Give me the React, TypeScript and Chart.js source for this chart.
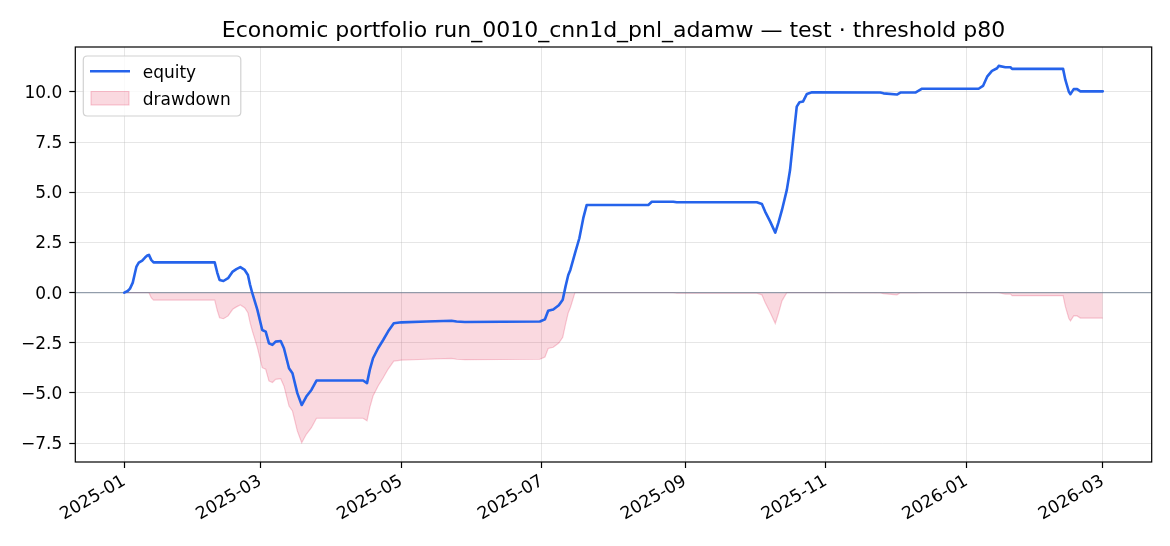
import React, { useEffect, useRef } from "react";
import { Chart, registerables } from "chart.js";

Chart.register(...registerables);

// Days since 2025-01-01 for each equity observation
const dayOffsets: number[] = [
  0, 1.5, 2.5, 3.7, 4.5, 5.3, 6.3, 7.8, 9.0, 10.0, 10.7, 11.7, 12.7, 39.2, 40.3, 41.3, 43, 45, 47, 48.6,
  50.3, 52.2, 53.6, 54.5, 55.5, 57.7, 59.8, 61.3, 62.7, 64.2, 65.6, 67.8, 69.2, 71.4, 72.9, 75, 76.9,
  78.9, 81.1, 83.3, 103.5, 105.2, 106.4, 107.8, 110, 112.2, 114.3, 116.8, 120.1, 131, 141.8, 144, 147.6,
  180.1, 182.3, 183.7, 185.9, 188.3, 190.0, 191.2, 192.4, 193.3, 195.3, 197.2, 198.9, 200.4, 227.1,
  228.6, 237.9, 239.4, 274.1, 276.3, 277.7, 279.9, 282.1, 283.5, 285, 287.1, 288.5, 290, 291.4, 292.6,
  294.1, 295.8, 298, 327.6, 329, 334.8, 336.3, 342.8, 345.7, 370.2, 372.1, 373.9, 376, 378.2, 378.9,
  381.8, 384, 384.7, 406.8, 407.8, 409.3, 410, 411.4, 412.9, 414.3, 424,
];

const equity: number[] = [
  0, 0.08, 0.2, 0.5, 0.9, 1.3, 1.5, 1.6, 1.75, 1.85, 1.88, 1.63, 1.51, 1.51, 1.0, 0.63, 0.58, 0.72, 1.05, 1.17,
  1.27, 1.13, 0.88, 0.4, -0.03, -0.86, -1.86, -1.94, -2.52, -2.6, -2.44, -2.41, -2.77, -3.77, -4.02, -5.01, -5.6,
  -5.18, -4.85, -4.38, -4.38, -4.51, -3.85, -3.27, -2.77, -2.36, -1.94, -1.53, -1.48, -1.44, -1.4, -1.44, -1.46,
  -1.44, -1.33, -0.9, -0.84, -0.63, -0.35, 0.3, 0.88, 1.13, 1.96, 2.71, 3.71, 4.37, 4.37,
  4.53, 4.53, 4.5, 4.5, 4.42, 4.04, 3.54, 2.99, 3.5, 4.12, 5.12, 6.11, 7.77, 9.27, 9.49,
  9.52, 9.9, 9.98, 9.97, 9.93, 9.87, 9.97, 9.97, 10.16, 10.16, 10.3, 10.76, 11.05, 11.18, 11.3,
  11.23, 11.23, 11.15, 11.15, 10.6, 10.01, 9.89, 10.14, 10.14, 10.03, 10.03,
];

const xTickDays: number[] = [0, 59, 120, 181, 243, 304, 365, 424];
const xTickLabels: string[] = ["2025-01", "2025-03", "2025-05", "2025-07", "2025-09", "2025-11", "2026-01", "2026-03"];
const yTickValues: number[] = [-7.5, -5, -2.5, 0, 2.5, 5, 7.5, 10];

const TITLE = "Economic portfolio run_0010_cnn1d_pnl_adamw \u2014 test \u00b7 threshold p80";
const FONT = "'DejaVu Sans', sans-serif";

export default function App() {
  const ref = useRef<HTMLCanvasElement | null>(null);

  useEffect(() => {
    const canvas = ref.current;
    if (!canvas) return;

    // drawdown = equity minus its running peak
    let peak = -Infinity;
    const drawdown = equity.map((v) => {
      peak = Math.max(peak, v);
      return v - peak;
    });

    const eqData = dayOffsets.map((d, i) => ({ x: d, y: equity[i] }));
    const ddData = dayOffsets.map((d, i) => ({ x: d, y: drawdown[i] }));

    const decorPlugin = {
      id: "decor",
      afterDatasetDraw(chart: any, args: any) {
        if (args.index !== 1) return;
        const { ctx, chartArea } = chart;
        const y0 = chart.scales.y.getPixelForValue(0);
        ctx.save();
        ctx.strokeStyle = "rgba(100,116,139,0.65)";
        ctx.lineWidth = 1.3;
        ctx.beginPath();
        ctx.moveTo(chartArea.left, y0);
        ctx.lineTo(chartArea.right, y0);
        ctx.stroke();
        ctx.restore();
      },
      afterDraw(chart: any) {
        const { ctx, chartArea } = chart;
        ctx.save();
        // frame
        ctx.strokeStyle = "#000";
        ctx.lineWidth = 1.2;
        ctx.strokeRect(chartArea.left, chartArea.top, chartArea.right - chartArea.left, chartArea.bottom - chartArea.top);
        // title
        ctx.fillStyle = "#000";
        ctx.font = `22px ${FONT}`;
        ctx.textAlign = "center";
        ctx.textBaseline = "alphabetic";
        ctx.fillText(TITLE, (chartArea.left + chartArea.right) / 2, 37);
        // legend
        const lx = chartArea.left + 8;
        const ly = chartArea.top + 9;
        const lw = 157.5;
        const lh = 60;
        const r = 4;
        ctx.beginPath();
        ctx.moveTo(lx + r, ly);
        ctx.lineTo(lx + lw - r, ly);
        ctx.quadraticCurveTo(lx + lw, ly, lx + lw, ly + r);
        ctx.lineTo(lx + lw, ly + lh - r);
        ctx.quadraticCurveTo(lx + lw, ly + lh, lx + lw - r, ly + lh);
        ctx.lineTo(lx + r, ly + lh);
        ctx.quadraticCurveTo(lx, ly + lh, lx, ly + lh - r);
        ctx.lineTo(lx, ly + r);
        ctx.quadraticCurveTo(lx, ly, lx + r, ly);
        ctx.closePath();
        ctx.fillStyle = "rgba(255,255,255,0.8)";
        ctx.fill();
        ctx.strokeStyle = "rgba(204,204,204,0.9)";
        ctx.lineWidth = 1.2;
        ctx.stroke();
        // equity handle
        ctx.strokeStyle = "#2563eb";
        ctx.lineWidth = 2.6;
        ctx.beginPath();
        ctx.moveTo(90, 71.3);
        ctx.lineTo(130, 71.3);
        ctx.stroke();
        // drawdown handle
        ctx.fillStyle = "rgba(225,29,72,0.17)";
        ctx.fillRect(91, 91.5, 38, 13.5);
        ctx.strokeStyle = "rgba(225,29,72,0.25)";
        ctx.lineWidth = 1;
        ctx.strokeRect(91, 91.5, 38, 13.5);
        ctx.fillStyle = "#000";
        ctx.font = `17px ${FONT}`;
        ctx.textAlign = "left";
        ctx.textBaseline = "alphabetic";
        ctx.fillText("equity", 142.7, 77.5);
        ctx.fillText("drawdown", 142.7, 104.8);
        ctx.restore();
      },
    };

    const gridColor = "rgba(176,176,176,0.32)";
    const chart = new Chart(canvas, {
      type: "line",
      data: {
        datasets: [
          {
            label: "equity",
            data: eqData,
            borderColor: "#2563eb",
            borderWidth: 2.6,
            borderJoinStyle: "round",
            borderCapStyle: "round",
            pointRadius: 0,
            tension: 0,
            fill: false,
          },
          {
            label: "drawdown",
            data: ddData,
            borderColor: "rgba(225,29,72,0.22)",
            backgroundColor: "rgba(225,29,72,0.17)",
            borderWidth: 1.2,
            pointRadius: 0,
            tension: 0,
            fill: "origin",
          },
        ],
      },
      options: {
        responsive: false,
        animation: false,
        devicePixelRatio: 1,
        events: [],
        layout: { padding: { top: 47, right: 18.3, left: 0, bottom: 0 } },
        plugins: { legend: { display: false }, tooltip: { enabled: false }, title: { display: false } },
        scales: {
          x: {
            type: "linear",
            min: -21.2,
            max: 445.2,
            afterBuildTicks: (s: any) => {
              s.ticks = xTickDays.map((v) => ({ value: v }));
            },
            afterFit: (s: any) => {
              s.height = 84;
            },
            ticks: {
              autoSkip: false,
              maxRotation: 30,
              minRotation: 30,
              padding: 3,
              color: "#000",
              font: { family: FONT, size: 17.3 },
              callback: (_v: any, i: number) => xTickLabels[i],
            },
            grid: { color: gridColor, lineWidth: 1, tickColor: "#000", tickLength: 6, tickWidth: 1.2 },
            border: { display: false },
          },
          y: {
            type: "linear",
            min: -8.44,
            max: 12.24,
            afterBuildTicks: (s: any) => {
              s.ticks = yTickValues.map((v) => ({ value: v }));
            },
            afterFit: (s: any) => {
              s.width = 75.3;
            },
            ticks: {
              padding: 7,
              labelOffset: 1.5,
              color: "#000",
              font: { family: FONT, size: 17 },
              callback: (v: any) => Number(v).toFixed(1).replace("-", "\u2212"),
            },
            grid: { color: gridColor, lineWidth: 1, tickColor: "#000", tickLength: 6, tickWidth: 1.2 },
            border: { display: false },
          },
        },
      },
      plugins: [decorPlugin],
    } as any);

    return () => chart.destroy();
  }, []);

  return (
    <div style={{ position: "fixed", left: 0, top: 0, width: 1170, height: 546, background: "#fff" }}>
      <canvas ref={ref} width={1170} height={546} style={{ display: "block", width: 1170, height: 546 }} />
    </div>
  );
}
